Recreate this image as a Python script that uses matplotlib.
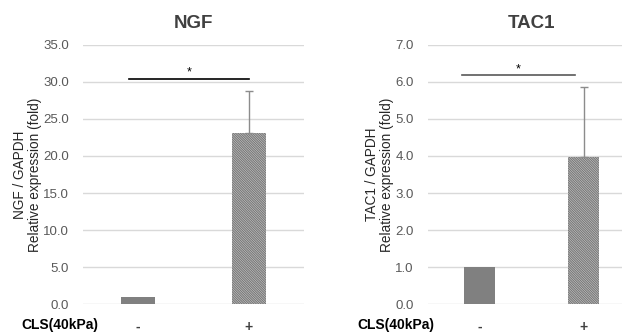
import matplotlib.pyplot as plt

# values
groups = ["-", "+"]
ngf_mean = [1.0, 23.05]
ngf_err = [0.0, 5.75]
tac1_mean = [1.0, 3.98]
tac1_err = [0.0, 1.87]

plt.rcParams["font.family"] = ["Liberation Sans", "DejaVu Sans"]
plt.rcParams["hatch.linewidth"] = 0.9

fig = plt.figure(figsize=(6.22, 3.33), dpi=100)

W, H = 622, 333
ax1 = fig.add_axes([83 / W, 28.7 / H, 221 / W, 259.6 / H])
ax2 = fig.add_axes([427.5 / W, 28.7 / H, 208 / W, 259.6 / H])

panels = [
    (ax1, "NGF", ngf_mean, ngf_err, 35, 5, "NGF / GAPDH", (-0.08, 1.0), 30.4, 0.31, "black"),
    (ax2, "TAC1", tac1_mean, tac1_err, 7, 1, "TAC1 / GAPDH", (-0.17, 0.92), 6.18, 0.30, "#595959"),
]

for ax, title, mean, err, ymax, step, ylab, sig_x, sig_y, bw, sig_col in panels:
    x = [0, 1]
    ax.bar(x[0], mean[0], width=bw, color="#808080", zorder=3)
    ax.bar(x[1], mean[1], width=bw, color="#e0e0e0", edgecolor="#7a7a7a",
           hatch="\\" * 14, linewidth=0, zorder=3)
    ax.errorbar(x[1], mean[1], yerr=[[0], [err[1]]], fmt="none",
                ecolor="#8c8c8c", elinewidth=1, capsize=3, capthick=1, zorder=4)
    ax.set_xlim(-0.5, 1.5)
    ax.set_ylim(0, ymax)
    ax.set_yticks([i * step for i in range(8)])
    ax.set_yticklabels([f"{i * step:.1f}" for i in range(8)], color="#595959", fontsize=9.5)
    ax.set_xticks(x)
    ax.set_xticklabels(groups, fontsize=10, fontweight="bold", color="#404040")
    ax.tick_params(length=0, axis="x", pad=11)
    ax.tick_params(length=0, axis="y", pad=10)
    ax.grid(axis="y", color="#d9d9d9", linewidth=1, zorder=0)
    for s in ax.spines.values():
        s.set_visible(False)
    ax.set_title(title, fontsize=13.5, fontweight="bold", color="#404040", pad=12)
    ax.set_ylabel(ylab + "\nRelative expression (fold)", fontsize=9.8, color="#262626",
                  labelpad=1, linespacing=1.1)
    ax.plot(sig_x, [sig_y, sig_y], color=sig_col, linewidth=1.2, clip_on=False)
    ax.text(sum(sig_x) / 2, sig_y, "*", ha="center", va="bottom", fontsize=9, color="black")

fig.text(98 / W, 1 - 325 / H, "CLS(40kPa)", ha="right", va="center",
         fontsize=10, fontweight="bold")
fig.text(434 / W, 1 - 325 / H, "CLS(40kPa)", ha="right", va="center",
         fontsize=10, fontweight="bold")

fig.savefig("out.png", dpi=100)
